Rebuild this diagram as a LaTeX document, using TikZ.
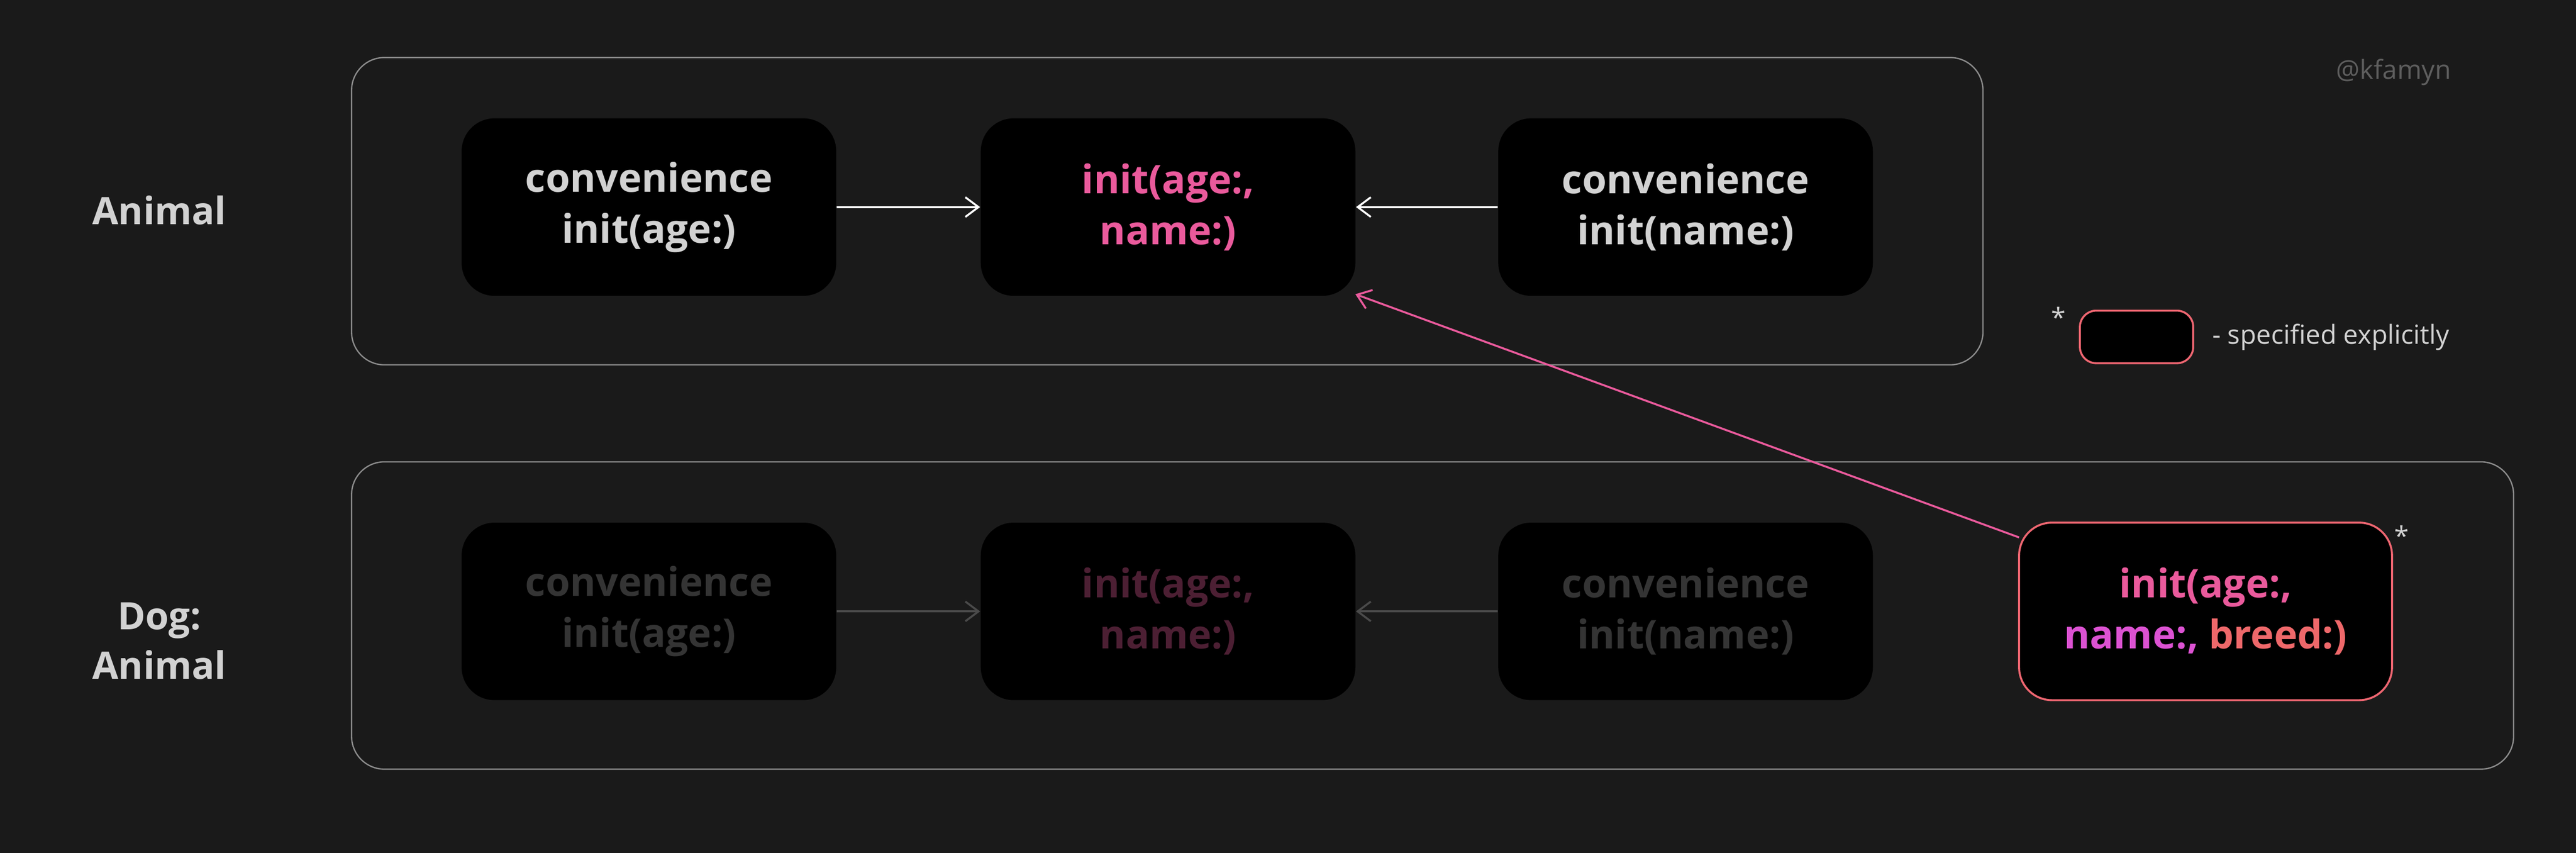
\documentclass[tikz,border=0pt]{standalone}
\usepackage{fontspec}
\setmainfont{Open Sans}
\usetikzlibrary{arrows.meta,positioning}
\definecolor{bgc}{HTML}{1A1A1A}
\definecolor{framec}{HTML}{8C8C8C}
\definecolor{textc}{HTML}{D2D2D2}
\definecolor{dimc}{HTML}{343434}
\definecolor{dimarrow}{HTML}{4A4A4A}
\definecolor{pinkc}{HTML}{EA5A9C}
\definecolor{dimpink}{HTML}{4C1F33}
\definecolor{magc}{HTML}{DC52D2}
\definecolor{orc}{HTML}{F06E55}
\tikzset{
  initbox/.style={fill=black,rounded corners=10pt,minimum width=114pt,minimum height=54pt,
    align=center,font=\fontsize{12}{15.5}\selectfont\bfseries,inner sep=0pt},
  frame/.style={draw=framec,line width=0.4pt,rounded corners=10pt},
  lbl/.style={text=textc,align=center,font=\fontsize{11.5}{15}\selectfont\bfseries},
  link/.style={-{Straight Barb[length=4pt,width=6pt]},line width=0.6pt}
}
\begin{document}
\begin{tikzpicture}[x=0.5pt,y=-0.5pt]
  \fill[bgc] (0,0) rectangle (1568,519);
  \useasboundingbox (0,0) rectangle (1568,519);

  % containers
  \draw[frame] (214,35) rectangle (1207,222);
  \draw[frame] (214,281) rectangle (1530,468);
  \node[lbl] (animal) at (97,128) {Animal};
  \node[lbl] (dog) at (97,390) {Dog:\\Animal};

  % Animal row
  \node[initbox,text=textc] (aage) at (395,126) {convenience\\init(age:)};
  \node[initbox,text=pinkc] (ades) at (711,126) {init(age:,\\name:)};
  \node[initbox,text=textc] (aname) at (1026,126) {convenience\\init(name:)};
  \draw[link,white] (aage) -- (ades);
  \draw[link,white] (aname) -- (ades);

  % Dog row (inherited, dimmed)
  \node[initbox,text=dimc] (dage) at (395,372) {convenience\\init(age:)};
  \node[initbox,text=dimpink] (ddes) at (711,372) {init(age:,\\name:)};
  \node[initbox,text=dimc] (dname) at (1026,372) {convenience\\init(name:)};
  \draw[link,dimarrow] (dage) -- (ddes);
  \draw[link,dimarrow] (dname) -- (ddes);

  % explicit designated init
  \node[initbox,draw=orc!60!pinkc,line width=0.6pt,minimum width=113.5pt] (dbreed) at (1342.5,372)
    {\textcolor{pinkc}{init(age:,}\\\textcolor{magc}{name:,} \textcolor{orc!70!pinkc}{breed:)}};
  \node[text=textc,font=\fontsize{8}{8}\selectfont] (star) at (1462,326) {*};
  \coordinate (from) at (1229,327);
  \coordinate (to) at (825,179);
  \draw[link,pinkc] (from) -- (to);

  % legend
  \node[initbox,draw=orc!60!pinkc,line width=0.6pt,minimum width=34.5pt,minimum height=16pt,rounded corners=5pt] (key) at (1300.5,205) {};
  \node[text=textc,font=\fontsize{8}{8}\selectfont] (keystar) at (1253,193) {*};
  \node[text=textc,font=\fontsize{8}{10}\selectfont,right=2pt of key] (keytext) {- specified explicitly};
  \node[text=framec!60!bgc,font=\fontsize{8}{10}\selectfont] (handle) at (1457,44) {@kfamyn};
\end{tikzpicture}
\end{document}
